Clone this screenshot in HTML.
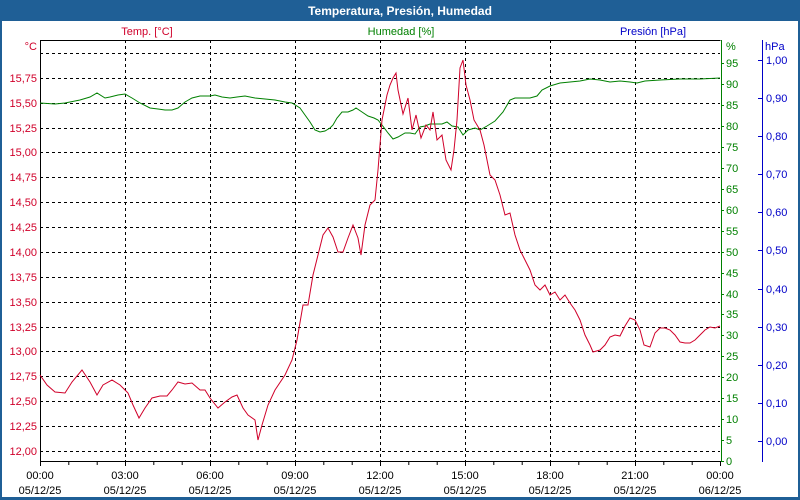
<!DOCTYPE html>
<html><head><meta charset="utf-8"><style>
html,body{margin:0;padding:0;background:#fff}
svg{display:block;font-family:"Liberation Sans",sans-serif;font-size:11px}
</style></head><body>
<svg width="800" height="500" viewBox="0 0 800 500" xmlns="http://www.w3.org/2000/svg">
<rect x="0" y="0" width="800" height="500" fill="#1f5f96"/>
<rect x="2" y="21" width="796" height="476" fill="#fff"/>
<text x="400" y="15" text-anchor="middle" fill="#fff" font-weight="bold" font-size="12">Temperatura, Presión, Humedad</text>
<text x="147" y="35" text-anchor="middle" fill="#d0002a">Temp. [°C]</text>
<text x="401" y="35" text-anchor="middle" fill="#008000">Humedad [%]</text>
<text x="653" y="35" text-anchor="middle" fill="#0000c8">Presión [hPa]</text>
<g stroke="#000" stroke-dasharray="3,3" stroke-width="1">
<line x1="40" x2="720" y1="53.5" y2="53.5"/>
<line x1="40" x2="720" y1="78.5" y2="78.5"/>
<line x1="40" x2="720" y1="103.5" y2="103.5"/>
<line x1="40" x2="720" y1="128.5" y2="128.5"/>
<line x1="40" x2="720" y1="152.5" y2="152.5"/>
<line x1="40" x2="720" y1="177.5" y2="177.5"/>
<line x1="40" x2="720" y1="202.5" y2="202.5"/>
<line x1="40" x2="720" y1="227.5" y2="227.5"/>
<line x1="40" x2="720" y1="252.5" y2="252.5"/>
<line x1="40" x2="720" y1="277.5" y2="277.5"/>
<line x1="40" x2="720" y1="302.5" y2="302.5"/>
<line x1="40" x2="720" y1="327.5" y2="327.5"/>
<line x1="40" x2="720" y1="351.5" y2="351.5"/>
<line x1="40" x2="720" y1="376.5" y2="376.5"/>
<line x1="40" x2="720" y1="401.5" y2="401.5"/>
<line x1="40" x2="720" y1="426.5" y2="426.5"/>
<line x1="40" x2="720" y1="451.5" y2="451.5"/>
<line x1="125.5" x2="125.5" y1="40" y2="461"/>
<line x1="210.5" x2="210.5" y1="40" y2="461"/>
<line x1="295.5" x2="295.5" y1="40" y2="461"/>
<line x1="380.5" x2="380.5" y1="40" y2="461"/>
<line x1="465.5" x2="465.5" y1="40" y2="461"/>
<line x1="550.5" x2="550.5" y1="40" y2="461"/>
<line x1="635.5" x2="635.5" y1="40" y2="461"/>
</g>
<path d="M40.5 40.5H720.5M40.5 40V461.5H721" stroke="#000" fill="none"/>
<line x1="721.5" y1="40" x2="721.5" y2="462" stroke="#008000"/>
<line x1="762.5" y1="40" x2="762.5" y2="462" stroke="#0000c8"/>
<g stroke="#000">
<path d="M40.5 461v5M68.8 461v4M97.2 461v4M125.5 461v5M153.8 461v4M182.2 461v4M210.5 461v5M238.8 461v4M267.2 461v4M295.5 461v5M323.8 461v4M352.2 461v4M380.5 461v5M408.8 461v4M437.2 461v4M465.5 461v5M493.8 461v4M522.2 461v4M550.5 461v5M578.8 461v4M607.2 461v4M635.5 461v5M663.8 461v4M692.2 461v4M720.5 461v5"/>
</g>
<g fill="#d0002a" text-anchor="end">
<text x="37" y="50">°C</text>
<text x="37" y="82">15,75</text><text x="37" y="107">15,50</text><text x="37" y="132">15,25</text><text x="37" y="156">15,00</text>
<text x="37" y="181">14,75</text><text x="37" y="206">14,50</text><text x="37" y="231">14,25</text><text x="37" y="256">14,00</text>
<text x="37" y="281">13,75</text><text x="37" y="306">13,50</text><text x="37" y="331">13,25</text><text x="37" y="355">13,00</text>
<text x="37" y="380">12,75</text><text x="37" y="405">12,50</text><text x="37" y="430">12,25</text><text x="37" y="455">12,00</text>
</g>
<g fill="#008000" stroke="none">
<text x="726" y="50">%</text>
<text x="726" y="67">95</text><text x="726" y="88">90</text><text x="726" y="109">85</text><text x="726" y="130">80</text>
<text x="726" y="151">75</text><text x="726" y="172">70</text><text x="726" y="193">65</text><text x="726" y="214">60</text>
<text x="726" y="235">55</text><text x="726" y="256">50</text><text x="726" y="277">45</text><text x="726" y="298">40</text>
<text x="726" y="318">35</text><text x="726" y="339">30</text><text x="726" y="360">25</text><text x="726" y="381">20</text>
<text x="726" y="402">15</text><text x="726" y="423">10</text><text x="726" y="444">5</text><text x="726" y="465">0</text>
</g>
<g stroke="#008000"><path d="M721 63.5h3M721 84.5h3M721 105.5h3M721 126.5h3M721 147.5h3M721 168.5h3M721 189.5h3M721 210.5h3M721 231.5h3M721 252.5h3M721 273.5h3M721 294.5h3M721 314.5h3M721 335.5h3M721 356.5h3M721 377.5h3M721 398.5h3M721 419.5h3M721 440.5h3M721 461.5h3"/></g>
<g fill="#0000c8">
<text x="765" y="50">hPa</text>
<text x="766" y="64">1,00</text><text x="766" y="102">0,90</text><text x="766" y="140">0,80</text><text x="766" y="178">0,70</text>
<text x="766" y="216">0,60</text><text x="766" y="254">0,50</text><text x="766" y="293">0,40</text><text x="766" y="331">0,30</text>
<text x="766" y="369">0,20</text><text x="766" y="407">0,10</text><text x="766" y="445">0,00</text>
</g>
<g stroke="#0000c8"><path d="M758 60.5h4M758 98.5h4M758 136.5h4M758 174.5h4M758 212.5h4M758 250.5h4M758 289.5h4M758 327.5h4M758 365.5h4M758 403.5h4M758 441.5h4"/></g>
<g fill="#000" text-anchor="middle">
<text x="40" y="479">00:00</text><text x="40" y="494">05/12/25</text>
<text x="125" y="479">03:00</text><text x="125" y="494">05/12/25</text>
<text x="210" y="479">06:00</text><text x="210" y="494">05/12/25</text>
<text x="295" y="479">09:00</text><text x="295" y="494">05/12/25</text>
<text x="380" y="479">12:00</text><text x="380" y="494">05/12/25</text>
<text x="465" y="479">15:00</text><text x="465" y="494">05/12/25</text>
<text x="550" y="479">18:00</text><text x="550" y="494">05/12/25</text>
<text x="635" y="479">21:00</text><text x="635" y="494">05/12/25</text>
<text x="720" y="479">00:00</text><text x="720" y="494">06/12/25</text>
</g>
<polyline fill="none" stroke="#008000" stroke-width="1" points="40,103 55,104 65,103 80,100 90,97 97,93 105,98 110,97 118,95 125,94 132,98 140,103 150,108 158,109 165,110 172,110 178,108 185,102 192,98 200,96 210,96 215,95 222,97 230,98 237,97 245,96 255,98 265,99 275,100 285,102 292,103 300,108 305,115 310,122 315,130 320,132 325,131 330,128 333,125 337,118 342,112 348,112 353,110 356,108 362,112 368,116 374,118 378,120 382,125 388,133 393,139 398,137 405,133 410,133 415,134 420,127 425,126 430,124 437,124 442,124 447,122 452,126 458,127 463,135 468,130 475,128 480,130 487,126 495,121 503,112 510,100 515,98 520,98 530,98 537,96 542,90 550,86 560,83 570,82 580,81 590,79 600,80 610,82 620,81 630,82 637,83 645,81 660,80 680,79 700,79 720,78"/>
<polyline fill="none" stroke="#d0002a" stroke-width="1" points="40,375 47,385 55,392 65,393 72,382 82,370 90,382 97,395 103,385 112,380 120,385 128,393 133,405 139,418 145,408 152,398 160,396 167,396 172,390 178,382 185,384 192,383 200,390 205,390 210,398 218,408 225,402 232,397 237,395 243,408 248,415 255,420 258,440 262,425 268,405 275,390 285,375 292,360 297,340 303,305 308,305 313,275 318,255 323,235 328,228 333,237 338,252 343,252 348,238 353,225 358,238 361,255 365,225 370,205 375,200 378,170 382,120 387,95 390,85 393,78 396,73 398,90 403,114 408,98 412,130 416,115 421,138 426,125 430,130 433,112 437,140 442,135 446,160 451,170 454,150 457,120 460,68 463,60 466,85 470,100 474,120 480,130 484,145 490,175 495,180 500,195 505,215 510,213 515,235 520,250 525,260 530,270 535,285 540,290 545,285 550,295 555,292 560,300 565,295 570,303 575,310 580,320 585,335 590,345 593,352 600,350 605,345 610,337 615,335 620,336 625,326 630,318 635,320 640,330 644,345 650,347 655,333 660,328 665,328 670,330 675,335 680,342 685,343 690,343 695,340 700,335 705,330 710,327 715,328 720,326"/>
</svg>
</body></html>
